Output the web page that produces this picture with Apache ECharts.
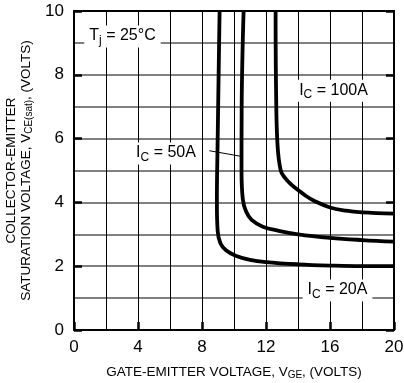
<!DOCTYPE html>
<html>
<head>
<meta charset="utf-8">
<script src="https://cdn.jsdelivr.net/npm/echarts@6/dist/echarts.min.js"></script>
<style>html,body{margin:0;padding:0;background:#fff;}#c{width:404px;height:383px;}</style>
</head>
<body>
<div id="c"></div>
<script>
// Data
const curve20A = [[9.1,10],[8.98,6],[8.93,4],[8.98,3.1],[9.15,2.72],[9.5,2.5],[10.1,2.33],[11,2.2],[12,2.13],[14,2.06],[16,2.02],[18,2.0],[20,2.0]];
const curve50A = [[10.6,10],[10.48,7],[10.47,5],[10.55,4.1],[10.75,3.72],[11.1,3.45],[11.8,3.24],[12.8,3.11],[14,3.0],[16,2.89],[18,2.82],[20,2.77]];
const curve100A = [[12.6,10],[12.63,7.5],[12.72,5.8],[12.92,5.0],[13.2,4.76],[13.6,4.55],[14,4.39],[14.5,4.2],[15,4.05],[16,3.84],[17,3.74],[18,3.69],[20,3.65]];
const xTicks = [0,4,8,12,16,20];
const yTicks = [0,2,4,6,8,10];
const labelTj = {text:'T{s|j} = 25°C', x:3.03, y:9.2};
const label100 = {text:'I{s|C} = 100A', x:16.22, y:7.5};
const label50 = {text:'I{s|C} = 50A', x:5.75, y:5.53};
const label20 = {text:'I{s|C} = 20A', x:16.47, y:1.24};
const leader50 = [[8.46,5.62],[10.375,5.45]];

const FONT = 'Liberation Sans, Arial, Helvetica, sans-serif';
const chart = echarts.init(document.getElementById('c'), null, {renderer:'canvas'});

function annot(l){
  return {
    coord:[l.x,l.y], symbolSize:0,
    label:{show:true, position:'inside', formatter:l.text, color:'#000',
      fontFamily:FONT, fontSize:16, lineHeight:21, backgroundColor:'#fff', padding:[0,5,1,5],
      rich:{s:{fontSize:12, fontFamily:FONT, color:'#000', lineHeight:21, verticalAlign:'bottom'}}}
  };
}
const lineStyle = {color:'#000', width:3.8};
function mkSeries(data, extra){
  return Object.assign({type:'line', data:data, showSymbol:false, smooth:0.4, lineStyle:lineStyle,
    itemStyle:{color:'#000'}, silent:true, animation:false, z:3}, extra||{});
}

chart.setOption({
  animation:false,
  backgroundColor:'#fff',
  grid:{left:74, right:10, top:11, bottom:53, containLabel:false, outerBoundsMode:'none'},
  xAxis:[
    {type:'value', min:0, max:20, interval:4, position:'bottom',
     axisLine:{show:true, onZero:false, lineStyle:{color:'#000', width:2}},
     axisTick:{show:true, inside:true, length:8, lineStyle:{color:'#000', width:2.5}},
     minorTick:{show:false, splitNumber:2},
     minorSplitLine:{show:true, lineStyle:{color:'#000', width:1}},
     splitLine:{show:true, lineStyle:{color:'#000', width:1}},
     axisLabel:{show:true, margin:9, color:'#000', fontSize:17, fontFamily:FONT,
       customValues:xTicks},
     name:'GATE-EMITTER VOLTAGE, V{s|GE}, (VOLTS)', nameLocation:'middle', nameGap:35,
     nameTextStyle:{color:'#000', fontSize:13.5, fontFamily:FONT, lineHeight:15,
       rich:{s:{fontSize:10, fontFamily:FONT, color:'#000', lineHeight:15, verticalAlign:'bottom'}}}},
    {type:'value', min:0, max:20, interval:4, position:'top',
     axisLine:{show:true, onZero:false, lineStyle:{color:'#000', width:2}},
     axisTick:{show:false}, axisLabel:{show:false}, splitLine:{show:false}}
  ],
  yAxis:[
    {type:'value', min:0, max:10, interval:2, position:'left',
     axisLine:{show:true, onZero:false, lineStyle:{color:'#000', width:2}},
     axisTick:{show:true, inside:true, length:8, lineStyle:{color:'#000', width:2.5}},
     minorTick:{show:false, splitNumber:2},
     minorSplitLine:{show:true, lineStyle:{color:'#808080', width:2}},
     splitLine:{show:true, lineStyle:{color:'#808080', width:2}},
     axisLabel:{show:true, margin:10, color:'#000', fontSize:17, fontFamily:FONT, customValues:yTicks},
     name:'COLLECTOR-EMITTER\nSATURATION VOLTAGE, V{s|CE(sat)}, (VOLTS)', nameLocation:'middle', nameGap:28,
     nameTextStyle:{color:'#000', fontSize:13.5, fontFamily:FONT, lineHeight:15, align:'center',
       rich:{s:{fontSize:10, fontFamily:FONT, color:'#000', lineHeight:15, verticalAlign:'bottom'}}}},
    {type:'value', min:0, max:10, interval:2, position:'right',
     axisLine:{show:true, onZero:false, lineStyle:{color:'#000', width:2}},
     axisTick:{show:true, inside:true, length:8, lineStyle:{color:'#000', width:2.5}},
     axisLabel:{show:false}, splitLine:{show:false}}
  ],
  series:[
    mkSeries(curve20A, {markPoint:{silent:true, animation:false, data:[annot(labelTj), annot(label20)]}}),
    mkSeries(curve50A, {markPoint:{silent:true, animation:false, data:[annot(label50)]},
      markLine:{silent:true, animation:false, symbol:['none','none'], label:{show:false},
        lineStyle:{color:'#000', width:1, type:'solid'},
        data:[[{coord:leader50[0]},{coord:leader50[1]}]]}}),
    mkSeries(curve100A, {markPoint:{silent:true, animation:false, data:[annot(label100)]}})
  ]
});
</script>
</body>
</html>
